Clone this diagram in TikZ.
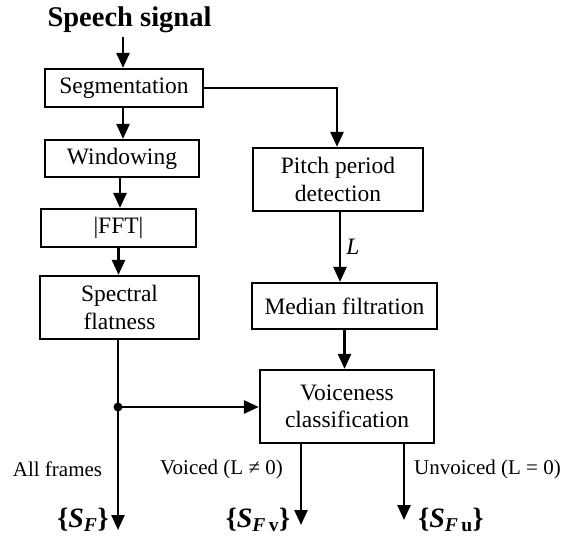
\documentclass[tikz,border=0pt]{standalone}
\usepackage{fontspec}
\setmainfont{Liberation Serif}
\usetikzlibrary{arrows.meta}
\begin{document}
\begin{tikzpicture}[x=1pt,y=-1pt,
  box/.style={draw,line width=2.2pt,inner sep=0pt,align=center,
    font=\fontsize{23.5}{27.5}\selectfont},
  arr/.style={line width=2.5pt,-{Triangle[width=13pt,length=15pt]}},
  lbl/.style={font=\fontsize{21}{24}\selectfont,inner sep=0pt},
  outl/.style={font=\fontsize{28}{30}\selectfont\bfseries,inner sep=0pt}]
\useasboundingbox (0,0) rectangle (565,540);
\node[font=\fontsize{28.5}{30}\selectfont\bfseries,inner sep=0pt,anchor=base] (title) at (129.5,27) {Speech signal};
\node[box,minimum width=158pt,minimum height=38pt] (seg) at (124,88) {Segmentation};
\node[box,minimum width=154pt,minimum height=37pt] (win) at (122,158.5) {Windowing};
\node[box,minimum width=155pt,minimum height=38pt] (fft) at (118.5,228) {|FFT|};
\node[box,minimum width=159pt,minimum height=63pt] (spec) at (119.5,307.5) {Spectral\\flatness};
\node[box,minimum width=170pt,minimum height=63pt] (pitch) at (338,179.5) {Pitch period\\detection};
\node[box,minimum width=185pt,minimum height=46pt] (med) at (344.5,306) {Median filtration};
\node[box,minimum width=174pt,minimum height=73pt] (voice) at (347,406.5) {Voiceness\\classification};
\coordinate (tstart) at (123,37);
\coordinate (dot) at (118,407);
\coordinate (endA) at (118,530);
\coordinate (endV) at (301,525);
\coordinate (endU) at (404,520);
\draw[arr] (tstart) -- (tstart |- seg.north);
\draw[arr] ([xshift=-1pt]seg.south) -- ([xshift=-1pt]seg.south |- win.north);
\draw[arr] ([xshift=-2pt]win.south) -- ([xshift=-2pt]win.south |- fft.north);
\draw[arr] (fft.south) -- (fft.south |- spec.north);
\draw[arr] (seg.east) -| ([xshift=-1pt]pitch.north);
\draw[arr] ([xshift=2pt]pitch.south) -- node[right=5pt,font=\fontsize{23.5}{27}\selectfont\itshape,inner sep=0pt]{L} ([xshift=2pt]pitch.south |- med.north);
\draw[arr] (med.south) -- (med.south |- voice.north);
\draw[line width=2.5pt] ([xshift=-1.5pt]spec.south) -- (dot);
\draw[arr] (dot) -- (endA);
\draw[arr] (dot) -- (dot -| voice.west);
\fill (dot) circle (4.5pt);
\draw[arr] (endV |- voice.south) -- (endV);
\draw[arr] (endU |- voice.south) -- (endU);
\node[lbl] (la) at (57.5,469) {All frames};
\node[lbl] (lv) at (221.5,469) {Voiced (L ≠ 0)};
\node[lbl] (lu) at (487.5,469) {Unvoiced (L = 0)};
\node[outl] (oa) at (83,520) {\{\textit{S}\textsubscript{\textit{F}}\}};
\node[outl] (ov) at (258,520) {\{\textit{S}\textsubscript{\textit{F}\,v}\}};
\node[outl] (ou) at (451,520) {\{\textit{S}\textsubscript{\textit{F}\,u}\}};
\end{tikzpicture}
\end{document}
